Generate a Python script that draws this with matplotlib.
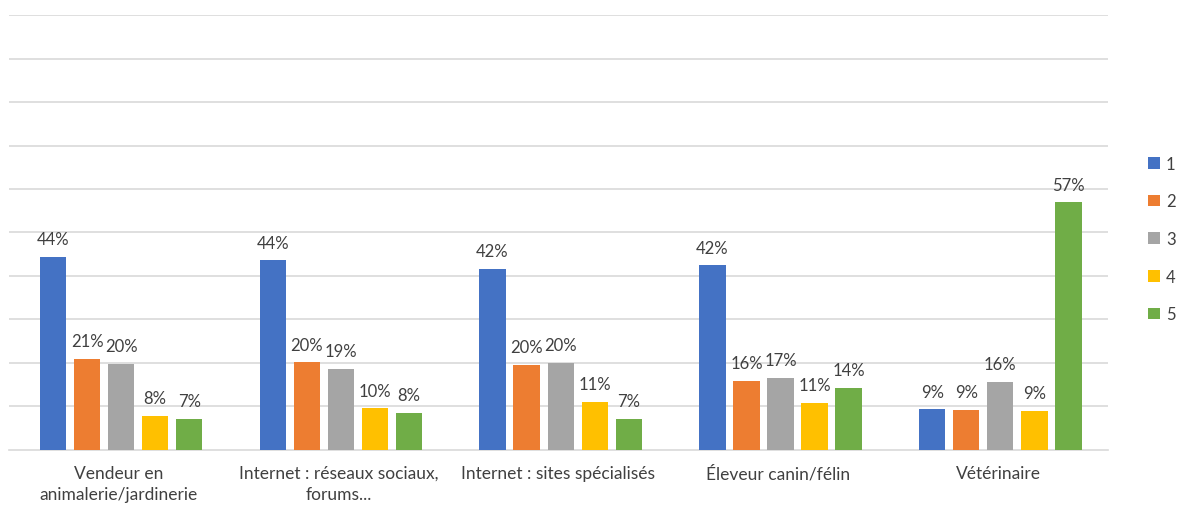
import numpy as np
import matplotlib.pyplot as plt

categories = ['Vendeur en\nanimalerie/jardinerie', 'Internet : réseaux sociaux,\nforums...',
              'Internet : sites spécialisés', 'Éleveur canin/félin', 'Vétérinaire']
series = ['1', '2', '3', '4', '5']
s1 = [44.3, 43.6, 41.6, 42.4, 9.3]
s2 = [20.9, 20.1, 19.6, 15.9, 9.2]
s3 = [19.7, 18.6, 20.0, 16.6, 15.6]
s4 = [7.8, 9.5, 11.0, 10.7, 8.9]
s5 = [7.1, 8.5, 7.1, 14.3, 56.9]
colors = ['#4472C4', '#ED7D31', '#A5A5A5', '#FFC000', '#70AD47']

plt.rcParams['font.family'] = ['Lato', 'DejaVu Sans']
fig = plt.figure(figsize=(11.83, 5.06), dpi=100)
ax = fig.add_axes([0.0076, 0.1093, 0.929, 0.8587])

x = np.arange(len(categories))
pitch = 0.155
w = 0.12
for j, vals in enumerate([s1, s2, s3, s4, s5]):
    bars = ax.bar(x + (j - 2) * pitch + 0.01, vals, w, color=colors[j], label=series[j], zorder=3)
    for b, v in zip(bars, vals):
        ax.annotate('%d%%' % round(v), (b.get_x() + b.get_width() / 2, v),
                    xytext=(0, 7), textcoords='offset points', ha='center', va='bottom',
                    fontsize=12, color='#404040')

ax.set_ylim(0, 100)
ax.set_xlim(-0.5, 4.5)
ax.set_yticks(np.arange(10, 101, 10))
ax.yaxis.grid(True, color='#d9d9d9', lw=1.2, zorder=0)
ax.set_yticklabels([])
ax.tick_params(axis='y', length=0)
ax.tick_params(axis='x', length=0, pad=11, labelsize=12.5, labelcolor='#404040')
ax.set_xticks(x)
ax.set_xticklabels(categories, linespacing=1.35)
for s in ['top', 'right', 'left']:
    ax.spines[s].set_visible(False)
ax.spines['bottom'].set_color('#d9d9d9')
ax.spines['bottom'].set_linewidth(1.2)

fig.legend(loc='upper left', bbox_to_anchor=(0.958, 0.72), frameon=False,
           handlelength=0.7, handleheight=0.7, handletextpad=0.35, labelspacing=1.3,
           fontsize=12, labelcolor='#404040')

fig.savefig('out.png', dpi=100)
